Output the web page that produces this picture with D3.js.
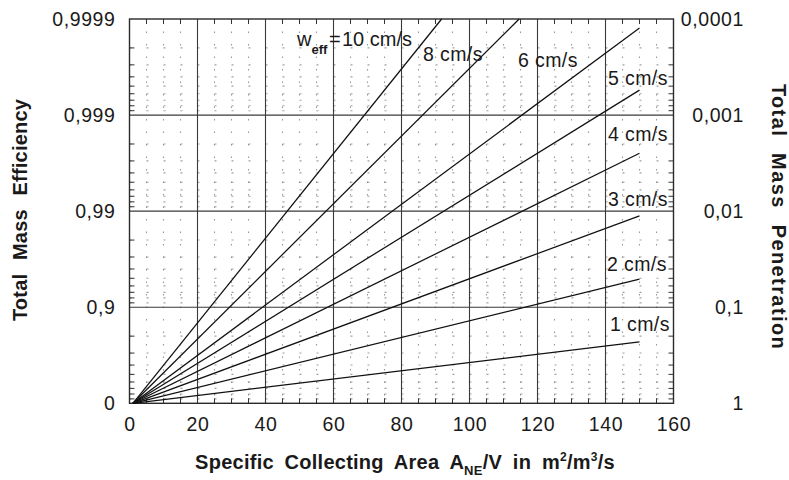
<!DOCTYPE html>
<html>
<head>
<meta charset="utf-8">
<script src="https://cdn.jsdelivr.net/npm/d3@7"></script>
<style>
  html, body { margin: 0; padding: 0; background: #fff; }
  svg { display: block; }
  text { font-family: "Liberation Sans", Arial, Helvetica, sans-serif; fill: #1a1a1a; }
</style>
</head>
<body>
<svg id="chart" width="789" height="480"></svg>
<script>
// Deutsch-Anderson style chart: penetration vs. specific collecting area,
// one straight line (on the log axis) per effective migration velocity.

const velocities = [1, 2, 3, 4, 5, 6, 8, 10];            // w_eff in cm/s
const velocityLabels = ["1 cm/s", "2 cm/s", "3 cm/s", "4 cm/s", "5 cm/s", "6 cm/s", "8 cm/s", "10 cm/s"];
const startArea = [1, 1, 1, 1, 1, 1, 1, 1];               // m²/m³/s
const startPenetration = [1, 1, 1, 1, 1, 1, 1, 1];
const endArea = [150, 150, 150, 150, 150, 150, 114.6, 91.8];
const endPenetration = [0.23, 0.051, 0.0112, 0.0025, 0.00055, 0.000124, 0.0001, 0.0001];

const areaTicks = [0, 20, 40, 60, 80, 100, 120, 140, 160];
const penetrationTicks = [1, 0.1, 0.01, 0.001, 0.0001];
const efficiencyTickLabels = ["0", "0,9", "0,99", "0,999", "0,9999"];
const penetrationTickLabels = ["1", "0,1", "0,01", "0,001", "0,0001"];

// ---- layout ----
const plot = { left: 129.5, right: 673.5, top: 19, bottom: 403.3 };
const svg = d3.select("#chart");

const x = d3.scaleLinear().domain([0, 160]).range([plot.left, plot.right]);
const y = d3.scaleLog().domain([1, 0.0001]).range([plot.bottom, plot.top]);

// minor positions
const minorArea = d3.range(5, 160, 5).filter(v => v % 20 !== 0);
const minorPen = [];
[1, 0.1, 0.01, 0.001].forEach(dec => {
  for (let k = 2; k <= 9; k++) minorPen.push(dec * k / 10);
});

const grid = svg.append("g");

// dotted minor grid
grid.selectAll("line.mx").data(minorArea).join("line")
  .attr("x1", d => x(d)).attr("x2", d => x(d))
  .attr("y1", plot.top).attr("y2", plot.bottom)
  .attr("stroke", "#555").attr("stroke-width", 1.1)
  .attr("stroke-dasharray", "1.5,11").attr("opacity", 0.6);
grid.selectAll("line.my").data(minorPen).join("line")
  .attr("x1", plot.left).attr("x2", plot.right)
  .attr("y1", d => y(d)).attr("y2", d => y(d))
  .attr("stroke", "#555").attr("stroke-width", 1.1)
  .attr("stroke-dasharray", "2,15").attr("opacity", 0.55);

// major grid
grid.selectAll("line.gx").data(areaTicks.slice(1, -1)).join("line")
  .attr("x1", d => x(d)).attr("x2", d => x(d))
  .attr("y1", plot.top).attr("y2", plot.bottom)
  .attr("stroke", "#3a3a3a").attr("stroke-width", 1.1);
grid.selectAll("line.gy").data(penetrationTicks.slice(1, -1)).join("line")
  .attr("x1", plot.left).attr("x2", plot.right)
  .attr("y1", d => y(d)).attr("y2", d => y(d))
  .attr("stroke", "#3a3a3a").attr("stroke-width", 1.1);

// inner ticks on the frame
const tickLen = 5;
const frameTicks = svg.append("g").attr("stroke", "#333").attr("stroke-width", 1);
minorArea.forEach(v => {
  frameTicks.append("line").attr("x1", x(v)).attr("x2", x(v)).attr("y1", plot.top).attr("y2", plot.top + tickLen);
  frameTicks.append("line").attr("x1", x(v)).attr("x2", x(v)).attr("y1", plot.bottom).attr("y2", plot.bottom - tickLen);
});
minorPen.forEach(v => {
  frameTicks.append("line").attr("x1", plot.left).attr("x2", plot.left + tickLen).attr("y1", y(v)).attr("y2", y(v));
  frameTicks.append("line").attr("x1", plot.right).attr("x2", plot.right - tickLen).attr("y1", y(v)).attr("y2", y(v));
});

// frame
svg.append("rect")
  .attr("x", plot.left).attr("y", plot.top)
  .attr("width", plot.right - plot.left).attr("height", plot.bottom - plot.top)
  .attr("fill", "none").attr("stroke", "#2a2a2a").attr("stroke-width", 1.4);

// velocity lines
const lineGen = d3.line().x(d => x(d[0])).y(d => y(d[1]));
const series = velocities.map((v, i) => [[startArea[i], startPenetration[i]], [endArea[i], endPenetration[i]]]);
svg.append("g").selectAll("path").data(series).join("path")
  .attr("d", lineGen)
  .attr("fill", "none").attr("stroke", "#111").attr("stroke-width", 1.25);

// axes (labels only; the frame draws the axis lines)
const fs = 19.5;
const styleTicks = sel => sel.selectAll("text").attr("font-size", fs).attr("fill", "#1a1a1a")
  .attr("font-family", "Liberation Sans, Arial, sans-serif").attr("letter-spacing", 0.6);

const xAxis = d3.axisBottom(x).tickValues(areaTicks).tickSize(0).tickPadding(0).tickFormat(d3.format("d"));
svg.append("g").attr("transform", `translate(0,${plot.bottom + 14})`).call(xAxis)
  .call(g => g.select(".domain").remove()).call(styleTicks);

const yLeft = d3.axisLeft(y).tickValues(penetrationTicks).tickSize(0).tickPadding(0)
  .tickFormat((d, i) => efficiencyTickLabels[i]);
svg.append("g").attr("transform", `translate(${plot.left - 14},0)`).call(yLeft)
  .call(g => g.select(".domain").remove()).call(styleTicks);

const yRight = d3.axisLeft(y).tickValues(penetrationTicks).tickSize(0).tickPadding(0)
  .tickFormat((d, i) => penetrationTickLabels[i]);
svg.append("g").attr("transform", `translate(744,0)`).call(yRight)
  .call(g => g.select(".domain").remove()).call(styleTicks);

// axis titles
const xt = svg.append("text")
  .attr("x", 405).attr("y", 469).attr("text-anchor", "middle")
  .attr("font-size", 20).attr("font-weight", "bold").attr("word-spacing", 5)
  .attr("letter-spacing", 0.25);
xt.append("tspan").text("Specific Collecting Area A");
xt.append("tspan").attr("font-size", 13).attr("dy", 6).text("NE");
xt.append("tspan").attr("dy", -6).text("/V in m");
xt.append("tspan").attr("font-size", 12).attr("dy", -8).text("2");
xt.append("tspan").attr("dy", 8).text("/m");
xt.append("tspan").attr("font-size", 12).attr("dy", -8).text("3");
xt.append("tspan").attr("dy", 8).text("/s");

svg.append("text")
  .attr("transform", "translate(27,210) rotate(-90)")
  .attr("text-anchor", "middle").attr("font-size", 20).attr("font-weight", "bold")
  .attr("word-spacing", 8).attr("letter-spacing", 0.2)
  .text("Total Mass Efficiency");

svg.append("text")
  .attr("transform", "translate(772,217) rotate(90)")
  .attr("text-anchor", "middle").attr("font-size", 20).attr("font-weight", "bold")
  .attr("word-spacing", 9).attr("letter-spacing", 1.4)
  .text("Total Mass Penetration");

// line labels
const labelPos = [
  [610, 331], [607, 271], [608, 206], [608, 141], [608, 85], [518, 67], [423, 61]
];
svg.append("g").selectAll("text").data(labelPos).join("text")
  .attr("x", d => d[0]).attr("y", d => d[1])
  .attr("font-size", 19.5).attr("letter-spacing", 0.4)
  .text((d, i) => velocityLabels[i]);

const wl = svg.append("text").attr("x", 297).attr("y", 46).attr("font-size", 20);
wl.append("tspan").text("w");
wl.append("tspan").attr("font-size", 13).attr("font-weight", "bold").attr("dy", 8).text("eff");
wl.append("tspan").attr("x", 329).attr("dy", -8).text("=");
wl.append("tspan").attr("x", 342).text(velocityLabels[7]);
</script>
</body>
</html>
